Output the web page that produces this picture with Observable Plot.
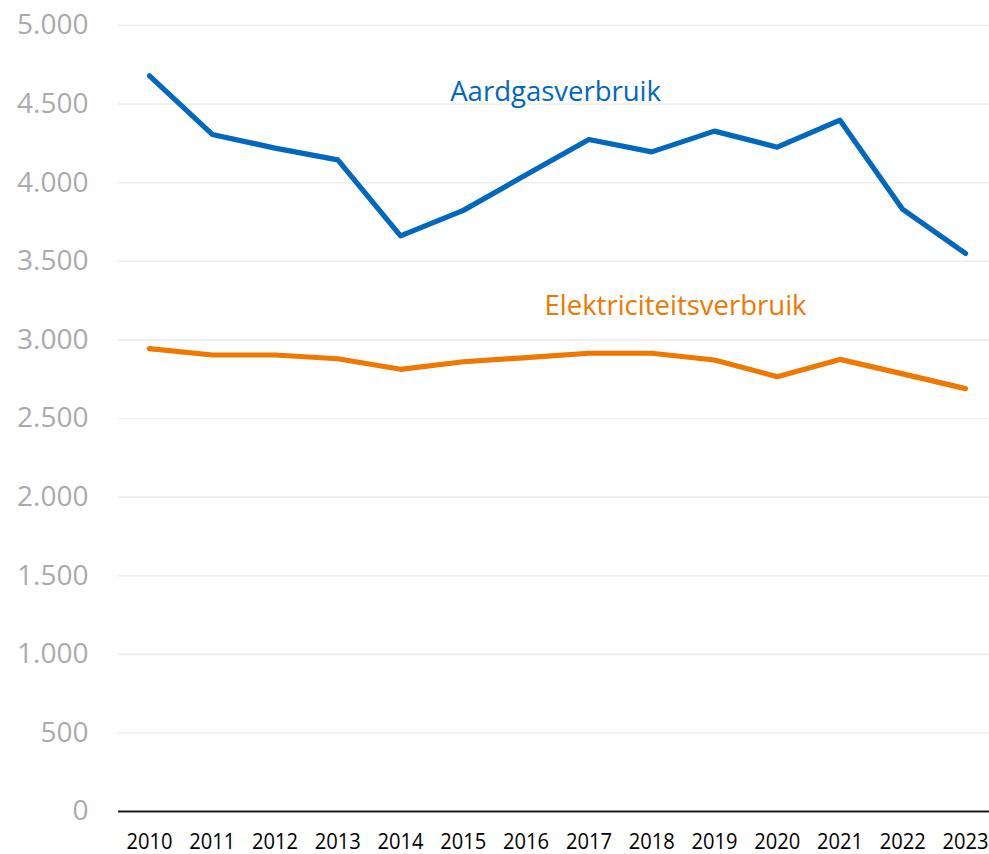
<!DOCTYPE html>
<html>
<head>
<meta charset="utf-8">
<script src="https://cdn.jsdelivr.net/npm/d3@7"></script>
<script src="https://cdn.jsdelivr.net/npm/@observablehq/plot@0.6"></script>
<style>
  html, body { margin: 0; padding: 0; background: #fff; }
  #chart { width: 989px; height: 854px; }
</style>
</head>
<body>
<div id="chart"></div>
<script>
const years = [2010, 2011, 2012, 2013, 2014, 2015, 2016, 2017, 2018, 2019, 2020, 2021, 2022, 2023];
const aardgas = [4680, 4307, 4220, 4145, 3662, 3824, 4050, 4275, 4196, 4328, 4226, 4398, 3830, 3550];
const elektriciteit = [2944, 2904, 2904, 2880, 2813, 2861, 2887, 2915, 2915, 2872, 2766, 2876, 2784, 2690];
const yTicks = [0, 500, 1000, 1500, 2000, 2500, 3000, 3500, 4000, 4500, 5000];
const seriesNames = ["Aardgasverbruik", "Elektriciteitsverbruik"];
const seriesColors = ["#0068BF", "#EE7800"];
const labelYear = [2016.47, 2018.38];
const labelValue = [4578, 3217];

const rows = [];
years.forEach((yr, i) => {
  rows.push({year: yr, value: aardgas[i], series: seriesNames[0]});
  rows.push({year: yr, value: elektriciteit[i], series: seriesNames[1]});
});
const labels = seriesNames.map((s, i) => ({series: s, year: labelYear[i], value: labelValue[i]}));

const nl = d3.formatLocale({decimal: ",", thousands: ".", grouping: [3], currency: ["€", ""]});
const fmt = nl.format(",");

const chart = Plot.plot({
  width: 989,
  height: 854,
  marginLeft: 118,
  marginRight: 0,
  marginTop: 25,
  marginBottom: 43,
  style: {fontFamily: "'Open Sans', sans-serif", background: "#fff", overflow: "visible"},
  x: {type: "linear", domain: [2010, 2023], range: [149, 965], label: null},
  y: {domain: [0, 5000], label: null},
  color: {domain: seriesNames, range: seriesColors},
  marks: [
    Plot.ruleY(yTicks.filter(d => d > 0), {stroke: "#EEEEEE", strokeWidth: 1.6}),
    Plot.axisY(yTicks, {tickSize: 0, tickPadding: 30, tickFormat: fmt, fontSize: 28, fill: "#ABABAB", label: null}),
    Plot.axisX(years, {tickSize: 0, tickPadding: 23, tickFormat: d => String(d), fontSize: 21, fill: "#000", label: null, className: "xax"}),
    Plot.line(rows, {x: "year", y: "value", z: "series", stroke: "series", strokeWidth: 5.2, strokeLinejoin: "round", strokeLinecap: "round"}),
    Plot.ruleY([0], {stroke: "#1a1a1a", strokeWidth: 2}),
    Plot.text(labels, {x: "year", y: "value", text: "series", fill: "series", fontSize: 27.5})
  ]
});
document.getElementById("chart").appendChild(chart);
// narrow x tick labels to mimic the condensed original face
chart.querySelectorAll("g.xax text, g[aria-label='x-axis tick label'] text").forEach(t => {
  t.setAttribute("textLength", "46");
  t.setAttribute("lengthAdjust", "spacingAndGlyphs");
});
</script>
</body>
</html>
